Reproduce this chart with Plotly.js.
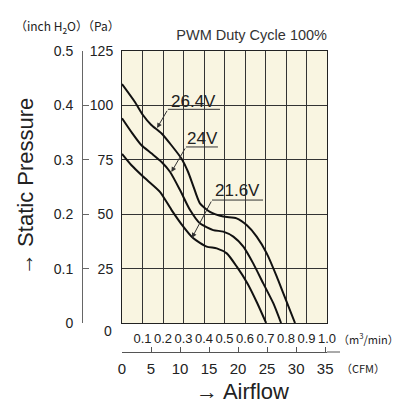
<!DOCTYPE html>
<html>
<head>
<meta charset="utf-8">
<script src="https://cdn.plot.ly/plotly-3.0.1.min.js"></script>
<style>html,body{margin:0;padding:0;background:#fff;}#chart{width:414px;height:405px;}</style>
</head>
<body>
<div id="chart"></div>
<script>
// ---- data (airflow in m3/min, static pressure in Pa) ----
const airflow264 = [0, 0.062, 0.102, 0.143, 0.192, 0.24, 0.289, 0.322, 0.346, 0.38, 0.429, 0.494, 0.559, 0.608, 0.657, 0.706, 0.755, 0.787, 0.844];
const pressure264 = [109.8, 101.7, 95.6, 91.0, 87.2, 81.8, 75.7, 69.5, 63.4, 55.0, 51.1, 48.9, 48.1, 45.0, 39.7, 32.0, 21.3, 13.6, 0];
const airflow240 = [0, 0.045, 0.094, 0.143, 0.192, 0.234, 0.283, 0.332, 0.38, 0.445, 0.494, 0.543, 0.592, 0.64, 0.689, 0.738, 0.776];
const pressure240 = [94.1, 87.9, 81.8, 78.0, 74.1, 69.5, 61.1, 51.9, 45.8, 42.7, 42.0, 39.7, 35.1, 27.4, 18.2, 9.1, 0];
const airflow216 = [0, 0.045, 0.104, 0.185, 0.242, 0.299, 0.348, 0.413, 0.462, 0.511, 0.56, 0.612, 0.66, 0.703];
const pressure216 = [77.7, 72.6, 67.2, 60.3, 51.9, 44.3, 38.9, 35.1, 34.3, 32.0, 25.9, 18.2, 9.1, 0];

const m3Ticks = [0.1, 0.2, 0.3, 0.4, 0.5, 0.6, 0.7, 0.8, 0.9, 1.0];
const m3Labels = ['0.1', '0.2', '0.3', '0.4', '0.5', '0.6', '0.7', '0.8', '0.9', '1.0'];
const cfmTicks = [0, 5, 10, 15, 20, 25, 30, 35];
const paTicks = [25, 50, 75, 100, 125];
const inchTicks = [0, 0.1, 0.2, 0.3, 0.4, 0.5];
const inchLabels = ['0', '0.1', '0.2', '0.3', '0.4', '0.5'];
const CFM_PER_M3MIN = 35.315;

const seriesNames = ['26.4V', '24V', '21.6V'];
// label anchor (text centre), underline span, arrow tail/head — in data units
const labelText = [[0.349, 102.0], [0.395, 84.6], [0.561, 60.7]];
const labelLine = [[0.224, 0.478, 98.2], [0.312, 0.468, 80.9], [0.439, 0.688, 56.5]];
const labelArrow = [[0.171, 89.6], [0.241, 69.4], [0.341, 39.1]];

// ---- layout geometry ----
const W = 414, H = 405;
const M = {l: 50, r: 60, t: 51, b: 53};
const PW = W - M.l - M.r, PH = H - M.t - M.b;
const px = v => (v - M.l) / PW;
const py = v => (H - M.b - v) / PH;

const sans = 'Liberation Sans, Arial, sans-serif';
const cjk = 'Noto Sans CJK JP, Liberation Sans, sans-serif';
const ink = '#222';

const lineStyle = {color: '#111', width: 2, shape: 'spline', smoothing: 0.6};
const traces = [
  {x: airflow264, y: pressure264, name: seriesNames[0], mode: 'lines', line: lineStyle},
  {x: airflow240, y: pressure240, name: seriesNames[1], mode: 'lines', line: lineStyle},
  {x: airflow216, y: pressure216, name: seriesNames[2], mode: 'lines', line: lineStyle},
  // invisible traces to attach secondary axes
  {x: [0], y: [0], xaxis: 'x2', yaxis: 'y', mode: 'markers', marker: {opacity: 0}, hoverinfo: 'skip'},
  {x: [0], y: [0], xaxis: 'x', yaxis: 'y2', mode: 'markers', marker: {opacity: 0}, hoverinfo: 'skip'}
];

const shapes = [];
const annotations = [];
for (let i = 0; i < seriesNames.length; i++) {
  shapes.push({type: 'line', xref: 'x', yref: 'y', x0: labelLine[i][0], x1: labelLine[i][1], y0: labelLine[i][2], y1: labelLine[i][2], line: {color: '#333', width: 1}});
  annotations.push({xref: 'x', yref: 'y', x: labelText[i][0], y: labelText[i][1], text: seriesNames[i], showarrow: false, font: {family: sans, size: 17, color: ink}, xanchor: 'center', yanchor: 'middle'});
  annotations.push({xref: 'x', yref: 'y', axref: 'x', ayref: 'y', x: labelArrow[i][0], y: labelArrow[i][1], ax: labelLine[i][0], ay: labelLine[i][2], text: '', showarrow: true, arrowhead: 2, arrowsize: 1, arrowwidth: 1, arrowcolor: '#333', standoff: 0, startstandoff: 0});
}
// CFM axis line extension beyond plot
shapes.push({type: 'line', xref: 'paper', yref: 'paper', x0: px(327), x1: px(340), y0: 0, y1: 0, line: {color: '#555', width: 1}});

annotations.push(
  {xref: 'paper', yref: 'paper', x: px(67), y: py(26), text: '（inch H<sub>2</sub>O）（Pa）', showarrow: false, font: {family: cjk, size: 12, color: ink}, xanchor: 'center', yanchor: 'middle'},
  {xref: 'paper', yref: 'paper', x: px(108), y: py(331), text: '0', showarrow: false, font: {family: sans, size: 14, color: ink}, xanchor: 'center', yanchor: 'middle'},
  {xref: 'paper', yref: 'paper', x: px(336), y: py(338), text: '（m<sup>3</sup>/min）', showarrow: false, font: {family: cjk, size: 11, color: ink}, xanchor: 'left', yanchor: 'middle'},
  {xref: 'paper', yref: 'paper', x: px(339), y: py(368), text: '（CFM）', showarrow: false, font: {family: cjk, size: 11, color: ink}, xanchor: 'left', yanchor: 'middle'},
  {xref: 'paper', yref: 'paper', x: px(243), y: py(391), text: '→ Airflow', showarrow: false, font: {family: sans, size: 22, color: ink}, xanchor: 'center', yanchor: 'middle'},
  {xref: 'paper', yref: 'paper', x: px(25), y: py(187), text: '→ Static Pressure', textangle: -90, showarrow: false, font: {family: sans, size: 22, color: ink}, xanchor: 'center', yanchor: 'middle'}
);

const layout = {
  width: W, height: H,
  margin: M,
  paper_bgcolor: '#ffffff',
  plot_bgcolor: '#f9f5e1',
  showlegend: false,
  title: {text: 'PWM Duty Cycle 100%', font: {family: sans, size: 14.5, color: '#333'}, x: px(327), xref: 'paper', xanchor: 'right', y: 1 - 35 / H, yanchor: 'middle'},
  xaxis: {
    range: [0, 1.0], domain: [px(122), px(327)], anchor: 'y',
    tickvals: m3Ticks, ticktext: m3Labels, ticks: '', ticklabelstandoff: 3, tickangle: 0,
    showgrid: true, gridcolor: '#333', gridwidth: 1, zeroline: false,
    showline: true, mirror: true, linecolor: '#222', linewidth: 1,
    tickfont: {family: sans, size: 13, color: ink}
  },
  xaxis2: {
    range: [0, CFM_PER_M3MIN], overlaying: 'x', anchor: 'free', position: 0, side: 'bottom',
    tickvals: cfmTicks, ticks: 'inside', ticklen: 5, tickcolor: '#555', tickwidth: 1, tickangle: 0,
    showline: true, linecolor: '#555', linewidth: 1, showgrid: false, zeroline: false,
    ticklabelstandoff: 3,
    tickfont: {family: sans, size: 15, color: ink}
  },
  yaxis: {
    range: [0, 125], domain: [py(323), 1], anchor: 'x',
    tickvals: paTicks, ticks: '', ticklabelstandoff: 5,
    showgrid: true, gridcolor: '#333', gridwidth: 1, zeroline: false,
    showline: true, mirror: true, linecolor: '#222', linewidth: 1,
    tickfont: {family: sans, size: 14, color: ink}
  },
  yaxis2: {
    range: [0, 0.5], overlaying: 'y', anchor: 'free', position: px(82), side: 'left',
    tickvals: inchTicks, ticktext: inchLabels, ticks: 'inside', ticklen: 6, tickcolor: '#666', tickwidth: 1,
    showline: true, linecolor: '#666', linewidth: 1, showgrid: false, zeroline: false,
    ticklabelstandoff: 6,
    tickfont: {family: sans, size: 14, color: ink}
  },
  shapes: shapes,
  annotations: annotations
};

Plotly.newPlot('chart', traces, layout, {staticPlot: true, displayModeBar: false});
</script>
</body>
</html>
